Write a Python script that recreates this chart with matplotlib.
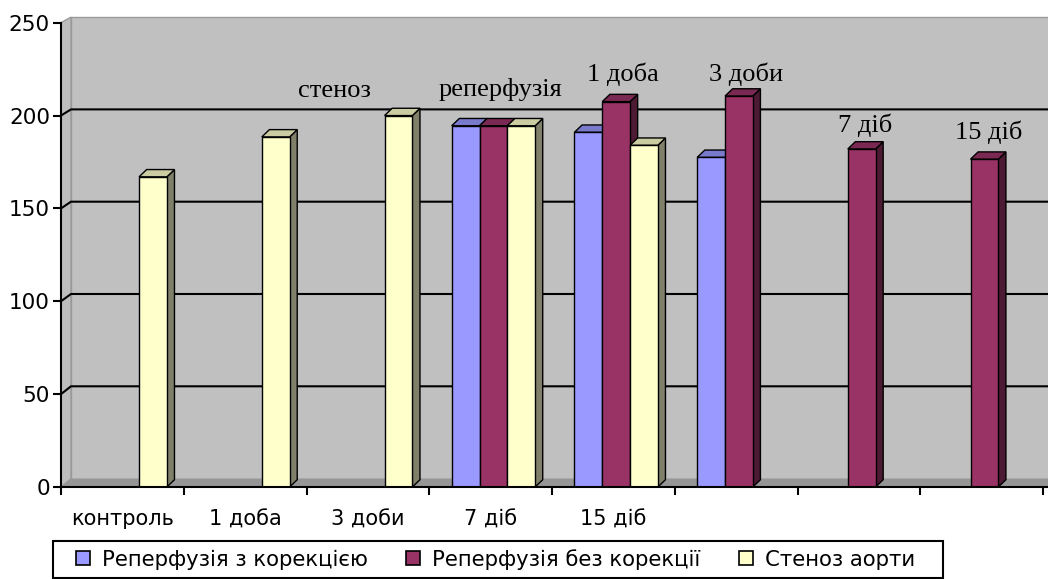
import matplotlib
matplotlib.use("Agg")
import matplotlib.pyplot as plt
from matplotlib.patches import Polygon, Rectangle
from matplotlib.lines import Line2D
import numpy

plt.rcParams["font.family"] = ["DejaVu Sans"]

CATEGORY_LABELS = ["контроль", "1 доба", "3 доби", "7 діб", "15 діб", "", "", ""]
SERIES_NAMES = ["Реперфузія з корекцією", "Реперфузія без корекції", "Стеноз аорти"]
NAN = numpy.nan
BLUE_VALUES = [NAN, NAN, NAN, 194.5, 191, 177.5, NAN, NAN]
RED_VALUES = [NAN, NAN, NAN, 194.5, 207.5, 210.5, 182, 176.5]
YELLOW_VALUES = [167, 188.5, 200, 194.5, 184, NAN, NAN, NAN]

ANNOTATION_TEXTS = ["стеноз", "реперфузія", "1 доба", "3 доби", "7 діб", "15 діб"]
ANNOTATION_X = [2.23, 3.58, 4.58, 5.58, 6.55, 7.56]
ANNOTATION_Y = [210, 210.5, 218.5, 218.5, 191, 187.5]

FRONT_COLORS = ["#9999ff", "#993366", "#ffffcc"]
TOP_COLORS = ["#7a7acc", "#7a2952", "#cccca3"]
SIDE_COLORS = ["#5c5c99", "#4d1a33", "#80806a"]

PX_X = 122.75          # pixels per category
PX_Y = 464.3 / 250     # pixels per value unit
BAR_DX, BAR_DY = 7.6 / PX_X, 7.3 / PX_Y
WALL_DX = 10 / PX_X
WALL_Y0, WALL_K = 8.4 / PX_Y, 0.994
BAR_START, BAR_W = 0.183, 0.2265


def back(v):
    return WALL_Y0 + WALL_K * v


figure = plt.figure(figsize=(10.48, 5.79), dpi=100)
axis = figure.add_axes([61 / 1048, 92 / 579, 987 / 1048, 464.3 / 579])
axis.set_facecolor("none")
xmax = 987 / PX_X
axis.set_xlim(0, xmax)
axis.set_ylim(0, 250)

# walls and floor
axis.add_patch(Polygon([(WALL_DX, back(0)), (xmax + 1, back(0)), (xmax + 1, back(250)), (WALL_DX, back(250))],
                       closed=True, facecolor="#c0c0c0", edgecolor="#999999", linewidth=1, clip_on=False, zorder=0))
axis.add_patch(Polygon([(0, 0), (WALL_DX, back(0)), (WALL_DX, back(250)), (0, 250)],
                       closed=True, facecolor="#bdbdbd", edgecolor="#999999", linewidth=1, clip_on=False, zorder=0))
axis.add_patch(Polygon([(0, 0), (WALL_DX, back(0)), (xmax + 1, back(0)), (xmax + 1, 0)],
                       closed=True, facecolor="#969696", edgecolor="none", clip_on=False, zorder=0.2))
for level in [50, 100, 150, 200]:
    axis.plot([0, WALL_DX, xmax + 1], [level, back(level), back(level)], color="black", linewidth=1.5, zorder=0.5, clip_on=False)

# 3d-ish bars
series = [BLUE_VALUES, RED_VALUES, YELLOW_VALUES]
positions = numpy.arange(len(CATEGORY_LABELS))
for cat in positions:
    for s, values in enumerate(series):
        v = values[cat]
        if numpy.isnan(v):
            continue
        x0 = cat + BAR_START + s * BAR_W
        x1 = x0 + BAR_W
        z = 2 + cat + s * 0.1
        axis.add_patch(Polygon([(x1, 0), (x1 + BAR_DX, BAR_DY), (x1 + BAR_DX, v + BAR_DY), (x1, v)],
                               closed=True, facecolor=SIDE_COLORS[s], edgecolor="black", linewidth=1, zorder=z))
        axis.add_patch(Polygon([(x0, v), (x0 + BAR_DX, v + BAR_DY), (x1 + BAR_DX, v + BAR_DY), (x1, v)],
                               closed=True, facecolor=TOP_COLORS[s], edgecolor="black", linewidth=1, zorder=z))
        axis.bar(x0, v, width=BAR_W, align="edge", color=FRONT_COLORS[s], edgecolor="black", linewidth=1, zorder=z + 0.01)

for text, x, y in zip(ANNOTATION_TEXTS, ANNOTATION_X, ANNOTATION_Y):
    axis.text(x, y, text, ha="center", va="baseline", fontsize=19, family=["Liberation Serif", "DejaVu Serif"], zorder=20)

# axes
for side in ["top", "right"]:
    axis.spines[side].set_visible(False)
for side in ["left", "bottom"]:
    axis.spines[side].set_linewidth(1.5)
    axis.spines[side].set_zorder(30)
axis.set_yticks([0, 50, 100, 150, 200, 250])
axis.tick_params(axis="y", length=6, width=1.5, labelsize=15.5, pad=2)
axis.set_xticks(positions.tolist() + [8])
axis.set_xticklabels([])
axis.tick_params(axis="x", which="major", length=6, width=1.5)
axis.set_xticks(positions + 0.5, minor=True)
axis.set_xticklabels(CATEGORY_LABELS, minor=True)
axis.tick_params(axis="x", which="minor", length=0, labelsize=15, pad=16)

# legend, with its frame drawn separately (wider right margin as in the original)
handles = [Line2D([], [], linestyle="none", marker="s", markersize=9.5, markerfacecolor=c, markeredgecolor="black", markeredgewidth=1.2)
           for c in FRONT_COLORS]
figure.legend(handles, SERIES_NAMES, loc="lower left", bbox_to_anchor=(53 / 1048, 1 / 579), ncol=3,
              fontsize=15.3, frameon=False, borderpad=0.4, handlelength=2.0, handletextpad=-0.1,
              columnspacing=1.13, borderaxespad=0)
figure.patches.append(Rectangle((53 / 1048, 1.5 / 579), 890 / 1048, 36.5 / 579, transform=figure.transFigure,
                                facecolor="none", edgecolor="black", linewidth=1.5))

figure.savefig("out.png", dpi=100, facecolor="white")
